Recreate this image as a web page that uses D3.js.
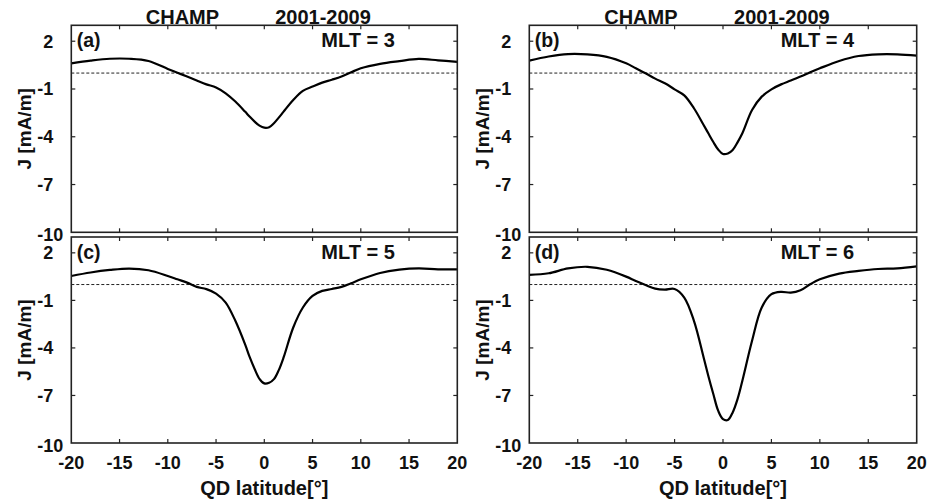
<!DOCTYPE html>
<html><head><meta charset="utf-8">
<script src="https://cdn.jsdelivr.net/npm/d3@7"></script>
<style>
html,body{margin:0;padding:0;background:#fff;}
text{font-family:"Liberation Sans",Arial,sans-serif;font-weight:bold;fill:#111;}
</style></head>
<body>
<svg id="chart" width="935" height="503"></svg>
<script>
// ---- data ----
const latitude = [-20,-18,-16,-14,-12,-10,-9,-8,-7,-6,-5,-4,-3,-2,-1.5,-1,-0.5,0,0.5,1,1.5,2,3,4,5,6,7,8,9,10,12,14,16,18,20];
const mlt3 = [0.61,0.78,0.90,0.90,0.76,0.26,0.02,-0.22,-0.47,-0.71,-0.90,-1.27,-1.79,-2.42,-2.75,-3.05,-3.30,-3.43,-3.40,-3.15,-2.80,-2.42,-1.69,-1.12,-0.85,-0.60,-0.42,-0.22,0.05,0.30,0.58,0.75,0.89,0.80,0.70];
const mlt4 = [0.78,1.04,1.19,1.17,1.02,0.61,0.30,-0.01,-0.35,-0.64,-1.02,-1.40,-2.21,-3.26,-3.80,-4.33,-4.80,-5.08,-5.05,-4.83,-4.35,-3.78,-2.32,-1.48,-1.02,-0.71,-0.47,-0.22,0.05,0.30,0.76,1.07,1.18,1.18,1.10];
const mlt5 = [0.54,0.76,0.92,1.01,0.90,0.54,0.33,0.12,-0.15,-0.29,-0.57,-1.14,-2.29,-3.76,-4.60,-5.33,-5.95,-6.24,-6.20,-5.97,-5.40,-4.60,-2.71,-1.45,-0.72,-0.40,-0.28,-0.15,0.08,0.33,0.73,0.94,1.02,0.96,0.96];
const mlt6 = [0.61,0.71,1.02,1.12,0.93,0.50,0.22,-0.03,-0.26,-0.32,-0.28,-0.82,-2.29,-4.60,-5.80,-6.91,-7.96,-8.49,-8.55,-8.07,-7.23,-6.07,-3.55,-1.45,-0.61,-0.46,-0.51,-0.36,0.02,0.33,0.69,0.86,0.98,1.02,1.15];
const panelLabels = ["(a)","(b)","(c)","(d)"];
const mltLabels = ["MLT = 3","MLT = 4","MLT = 5","MLT = 6"];
const xTicks = [-20,-15,-10,-5,0,5,10,15,20];
const yTicks = [2,-1,-4,-7,-10];
const titleLeft = "CHAMP";
const titleRight = "2001-2009";
const xLabel = "QD latitude[°]";
const yLabel = "J [mA/m]";

// ---- layout ----
const series = [mlt3, mlt4, mlt5, mlt6];
const panels = [
  {x:71.3,  y:25.3, w:386,   h:207, bottom:false},
  {x:529.3, y:25.3, w:387.4, h:207, bottom:false},
  {x:71.3,  y:237,  w:386,   h:206, bottom:true},
  {x:529.3, y:237,  w:387.4, h:206, bottom:true}
];
const svg = d3.select("#chart");

panels.forEach((p, i) => {
  const g = svg.append("g").attr("transform", `translate(${p.x},${p.y})`);
  const x = d3.scaleLinear().domain([-20,20]).range([0,p.w]);
  const y = d3.scaleLinear().domain([-10,3]).range([p.h,0]);
  const tk = 4;

  // zero dashed line
  g.append("line").attr("x1",0).attr("x2",p.w).attr("y1",y(0)).attr("y2",y(0))
    .attr("stroke","#222").attr("stroke-width",1).attr("stroke-dasharray","3,2");

  // curve
  const line = d3.line().x((d,j)=>x(latitude[j])).y(d=>y(d)).curve(d3.curveCatmullRom.alpha(0.5));
  g.append("path").attr("d", line(series[i])).attr("fill","none")
    .attr("stroke","#000").attr("stroke-width",2.2);

  // ticks inward on all sides
  const inner = xTicks.filter(t=>t>-20 && t<20);
  inner.forEach(t=>{
    g.append("line").attr("x1",x(t)).attr("x2",x(t)).attr("y1",p.h).attr("y2",p.h-tk).attr("stroke","#222").attr("stroke-width",1.2);
    g.append("line").attr("x1",x(t)).attr("x2",x(t)).attr("y1",0).attr("y2",tk).attr("stroke","#222").attr("stroke-width",1.2);
  });
  yTicks.filter(t=>t>-10).forEach(t=>{
    g.append("line").attr("x1",0).attr("x2",tk).attr("y1",y(t)).attr("y2",y(t)).attr("stroke","#222").attr("stroke-width",1.2);
    g.append("line").attr("x1",p.w).attr("x2",p.w-tk).attr("y1",y(t)).attr("y2",y(t)).attr("stroke","#222").attr("stroke-width",1.2);
  });

  // frame
  g.append("rect").attr("x",0).attr("y",0).attr("width",p.w).attr("height",p.h)
    .attr("fill","none").attr("stroke","#222").attr("stroke-width",1.6);

  // y tick labels
  yTicks.forEach(t=>{
    const off = (t===-10) ? 8 : 18;
    g.append("text").attr("x",-off).attr("y",y(t) + (t===-10 ? 8.5 : 6.5))
      .attr("text-anchor","end").style("font-size","18px").text(t);
  });

  // x tick labels (bottom row)
  if (p.bottom) {
    xTicks.forEach(t=>{
      g.append("text").attr("x",x(t)).attr("y",p.h+26).attr("text-anchor","middle")
        .style("font-size","18px").text(t);
    });
    g.append("text").attr("x",p.w/2).attr("y",p.h+52).attr("text-anchor","middle")
      .style("font-size","20px").text(xLabel);
  }

  // y axis label
  g.append("text").attr("transform",`translate(${-40},${p.h/2}) rotate(-90)`)
    .attr("text-anchor","middle").style("font-size","19px").text(yLabel);

  // panel letter & MLT
  g.append("text").attr("x",5.4).attr("y",22).style("font-size","19.5px").text(panelLabels[i]);
  g.append("text").attr("x",p.w-62.5).attr("y",22).attr("text-anchor","end").style("font-size","20px").text(mltLabels[i]);

  // titles
  if (!p.bottom) {
    g.append("text").attr("x",p.w*0.288).attr("y",-1.8).attr("text-anchor","middle").style("font-size","20px").text(titleLeft);
    g.append("text").attr("x",p.w*0.652).attr("y",-1.8).attr("text-anchor","middle").style("font-size","20px").text(titleRight);
  }
});
</script>
</body></html>
